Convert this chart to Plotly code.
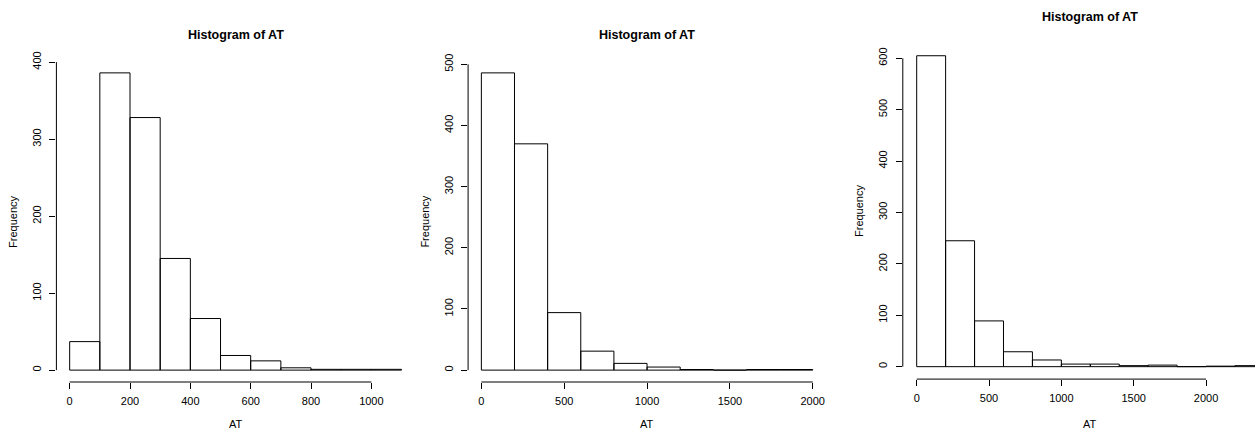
import plotly.graph_objects as go

W, H = 1255, 430

# ---- data (bin edges, counts, tick values) ----
p1_breaks = [0, 100, 200, 300, 400, 500, 600, 700, 800, 900, 1000, 1100]
p1_counts = [37, 386, 328, 145, 67, 19, 12, 3, 1, 1, 1]
p1_xticks = [0, 200, 400, 600, 800, 1000]
p1_yticks = [0, 100, 200, 300, 400]

p2_breaks = [0, 200, 400, 600, 800, 1000, 1200, 1400, 1600, 1800, 2000]
p2_counts = [486, 370, 94, 31, 11, 5, 1, 0, 1, 1]
p2_xticks = [0, 500, 1000, 1500, 2000]
p2_yticks = [0, 100, 200, 300, 400, 500]

p3_breaks = [0, 200, 400, 600, 800, 1000, 1200, 1400, 1600, 1800, 2000, 2200, 2400]
p3_counts = [605, 245, 89, 29, 13, 5, 5, 2, 3, 0, 1, 2]
p3_xticks = [0, 500, 1000, 1500, 2000]
p3_yticks = [0, 100, 200, 300, 400, 500, 600]

title_text = "Histogram of AT"
xlab = "AT"
ylab = "Frequency"

FONT = "Liberation Sans, Arial, Helvetica, sans-serif"

# panel layout in pixels: (left, right), (top, bottom) of plot region
panels = [
    dict(breaks=p1_breaks, counts=p1_counts, xt=p1_xticks, yt=p1_yticks,
         px=(56.4, 414.8), py=(61.0, 382.0)),
    dict(breaks=p2_breaks, counts=p2_counts, xt=p2_xticks, yt=p2_yticks,
         px=(468.1, 826.0), py=(61.0, 382.0)),
    dict(breaks=p3_breaks, counts=p3_counts, xt=p3_xticks, yt=p3_yticks,
         px=(902.8, 1277.8), py=(43.3, 379.1)),
]

fig = go.Figure()
layout = dict(
    width=W, height=H, margin=dict(l=0, r=0, t=0, b=0, pad=0, autoexpand=False),
    paper_bgcolor="white", plot_bgcolor="white",
    showlegend=False,
    font=dict(family=FONT, color="black", size=11),
)
shapes = []
annotations = []

for i, p in enumerate(panels):
    n = "" if i == 0 else str(i + 1)
    xa, ya = "x" + n, "y" + n
    br, ct = p["breaks"], p["counts"]
    lo, hi = br[0], br[-1]
    ext = 0.04 * (hi - lo)
    xr = [lo - ext, hi + ext]
    ymax = max(ct)
    yr = [-0.04 * ymax, ymax * 1.04]
    left, right = p["px"]
    top, bottom = p["py"]
    # clip domain at figure edge, adjust range accordingly
    if right > W:
        scale = (xr[1] - xr[0]) / (right - left)
        xr = [xr[0], xr[0] + (W - left) * scale]
        right = W
    xdom = [left / W, right / W]
    ydom = [1 - bottom / H, 1 - top / H]

    # histogram rectangles (R style: every bin drawn, incl. empty ones)
    xs, ys = [], []
    for k in range(len(ct)):
        xs += [br[k], br[k], br[k + 1], br[k + 1], br[k], None]
        ys += [0, ct[k], ct[k], 0, 0, None]
    fig.add_trace(go.Scatter(
        x=xs, y=ys, xaxis=xa, yaxis=ya, mode="lines",
        line=dict(color="black", width=1), hoverinfo="skip",
        cliponaxis=True,
    ))

    layout["xaxis" + n] = dict(
        domain=xdom, range=xr, anchor=ya, showgrid=False, zeroline=False,
        showline=False, ticks="outside", ticklen=6, tickwidth=1, tickcolor="black",
        tickvals=p["xt"], ticktext=[str(v) for v in p["xt"]], automargin=False,
        tickfont=dict(size=11, family=FONT), ticklabelstandoff=3,
    )
    layout["yaxis" + n] = dict(
        domain=ydom, range=yr, anchor=xa, showgrid=False, zeroline=False,
        showline=False, ticks="outside", ticklen=6, tickwidth=1, tickcolor="black",
        tickvals=p["yt"], ticktext=[str(v) for v in p["yt"]], tickangle=-90,
        automargin=False, tickfont=dict(size=11, family=FONT), ticklabelstandoff=4,
    )
    # R-style axis lines spanning only the tick range
    shapes.append(dict(type="line", xref=xa, yref=ya + " domain",
                       x0=p["xt"][0], x1=p["xt"][-1], y0=0, y1=0,
                       line=dict(color="black", width=1)))
    shapes.append(dict(type="line", xref=xa + " domain", yref=ya,
                       x0=0, x1=0, y0=p["yt"][0], y1=p["yt"][-1],
                       line=dict(color="black", width=1)))
    cx = (p["px"][0] + p["px"][1]) / 2
    annotations.append(dict(text="<b>%s</b>" % title_text, xref="paper", yref="paper",
                            x=cx / W, y=1 - (top - 26) / H, showarrow=False,
                            xanchor="center", yanchor="middle",
                            font=dict(size=12.5, family=FONT)))
    annotations.append(dict(text=xlab, xref="paper", yref="paper",
                            x=cx / W, y=1 - 424 / H, showarrow=False,
                            xanchor="center", yanchor="middle",
                            font=dict(size=11, family=FONT)))
    cy = (top + bottom) / 2
    annotations.append(dict(text=ylab, xref="paper", yref="paper",
                            x=(left - 44) / W, y=1 - cy / H, showarrow=False,
                            textangle=-90, xanchor="center", yanchor="middle",
                            font=dict(size=11, family=FONT)))

layout["shapes"] = shapes
layout["annotations"] = annotations
fig.update_layout(**layout)
fig.write_html("out.html")
